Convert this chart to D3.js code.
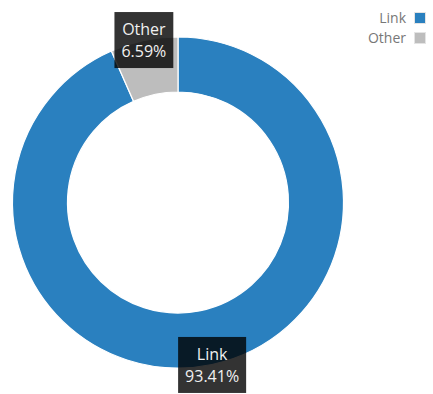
<!DOCTYPE html>
<html>
<head>
<meta charset="utf-8">
<script src="https://cdn.jsdelivr.net/npm/d3@7"></script>
<style>
  body { margin: 0; background: #fff; }
  svg { font-family: "Open Sans", sans-serif; }
</style>
</head>
<body>
<div id="chart"></div>
<script>
// data
var categories = ["Link", "Other"];
var values = [93.41, 6.59];
var colors = ["#2a80bf", "#bdbdbd"];

var width = 433, height = 394;
var cx = 178, cy = 202.5,
    outerR = 165.5, innerR = 110.5;

var svg = d3.select("#chart")
    .append("svg")
    .attr("width", width)
    .attr("height", height);

var data = categories.map(function(c, i) {
    return { name: c, value: values[i] };
});

var color = d3.scaleOrdinal()
    .domain(categories)
    .range(colors);

var pie = d3.pie()
    .sort(null)
    .value(function(d) { return d.value; });

var arc = d3.arc()
    .innerRadius(innerR)
    .outerRadius(outerR);

var labelArc = d3.arc()
    .innerRadius(166)
    .outerRadius(166);

var g = svg.append("g")
    .attr("transform", "translate(" + cx + "," + cy + ")");

var arcs = pie(data);

g.selectAll("path")
    .data(arcs)
    .enter()
    .append("path")
    .attr("d", arc)
    .style("fill", function(d) { return color(d.data.name); })
    .style("stroke", "#fff")
    .style("stroke-width", 1.2);

// labels in dark boxes
var labels = g.selectAll(".lbl")
    .data(arcs)
    .enter()
    .append("g")
    .attr("class", "lbl")
    .attr("transform", function(d) {
        var c = labelArc.centroid(d);
        return "translate(" + c[0] + "," + c[1] + ")";
    });

labels.each(function(d) {
    var el = d3.select(this);
    var t = el.append("text")
        .attr("text-anchor", "middle")
        .style("font-size", "16px")
        .style("fill", "#f0f0f0");
    t.append("tspan").attr("x", 0).attr("y", -5).text(d.data.name);
    t.append("tspan").attr("x", 0).attr("y", 17).text(d.data.value.toFixed(2) + "%");
    var bb = t.node().getBBox();
    var w = bb.width + 14;
    el.insert("rect", "text")
        .attr("x", -w / 2)
        .attr("y", -28)
        .attr("width", w)
        .attr("height", 56)
        .style("fill", "#000")
        .style("fill-opacity", 0.8);
});

// legend
var legend = svg.append("g");

var items = legend.selectAll(".leg")
    .data(categories)
    .enter()
    .append("g")
    .attr("class", "leg")
    .attr("transform", function(d, i) {
        return "translate(0," + (i * 20) + ")";
    });

items.append("rect")
    .attr("x", 414.5)
    .attr("y", 12.5)
    .attr("width", 11)
    .attr("height", 11)
    .style("fill", function(d) { return color(d); })
    .style("stroke", "#e4e4e4")
    .style("stroke-width", 1);

items.append("text")
    .attr("x", 406)
    .attr("y", 22.5)
    .attr("text-anchor", "end")
    .style("font-size", "14px")
    .style("fill", "#777")
    .text(function(d) { return d; });
</script>
</body>
</html>
